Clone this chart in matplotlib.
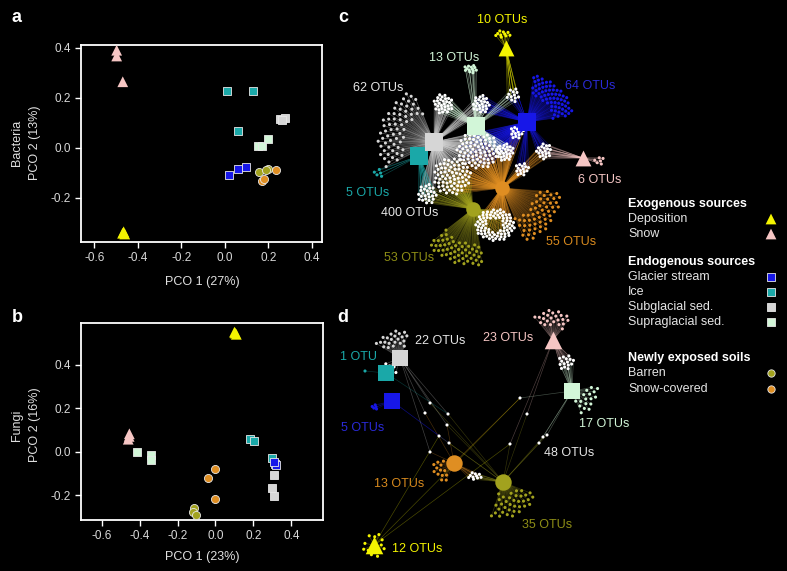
import numpy as np
import matplotlib.pyplot as plt
from matplotlib.collections import LineCollection

plt.rcParams['font.family'] = ['Liberation Sans', 'DejaVu Sans']

# sample groups
groups = ['Deposition', 'Snow', 'Glacier stream', 'Ice', 'Subglacial sed.',
          'Supraglacial sed.', 'Barren', 'Snow-covered']
colors = {'Deposition': '#f4f400', 'Snow': '#f6c6c4', 'Glacier stream': '#1717e8',
          'Ice': '#1aa8a8', 'Subglacial sed.': '#d6d6d6', 'Supraglacial sed.': '#d2f6d8',
          'Barren': '#a2a21e', 'Snow-covered': '#df8e22'}
markers = {'Deposition': '^', 'Snow': '^', 'Glacier stream': 's', 'Ice': 's',
           'Subglacial sed.': 's', 'Supraglacial sed.': 's', 'Barren': 'o', 'Snow-covered': 'o'}

# panel a: bacteria PCO
bac_group = (['Snow'] * 3 + ['Deposition'] * 3 + ['Ice'] * 3 + ['Subglacial sed.'] * 3
             + ['Supraglacial sed.'] * 3 + ['Glacier stream'] * 3 + ['Barren'] * 3
             + ['Snow-covered'] * 3)
bac_pco1 = [-0.497, -0.497, -0.469, -0.470, -0.465, -0.460,
            0.009, 0.129, 0.060, 0.254, 0.277, 0.262,
            0.154, 0.169, 0.200, 0.021, 0.061, 0.098,
            0.159, 0.200, 0.190, 0.170, 0.180, 0.236]
bac_pco2 = [0.390, 0.367, 0.264, -0.342, -0.336, -0.345,
            0.227, 0.227, 0.067, 0.113, 0.117, 0.110,
            0.008, 0.008, 0.034, -0.109, -0.085, -0.076,
            -0.096, -0.083, -0.090, -0.133, -0.125, -0.089]

# panel b: fungi PCO
fun_group = bac_group
fun_pco1 = [-0.454, -0.460, -0.455, 0.104, 0.110, 0.100,
            0.180, 0.201, 0.298, 0.310, 0.300, 0.310,
            -0.412, -0.341, -0.341, 0.316, 0.320, 0.310,
            -0.111, -0.120, -0.100, -0.002, -0.037, -0.002]
fun_pco2 = [0.082, 0.057, 0.070, 0.546, 0.540, 0.550,
            0.060, 0.049, -0.028, -0.106, -0.166, -0.205,
            0.000, -0.015, -0.040, -0.057, -0.060, -0.050,
            -0.259, -0.280, -0.290, -0.081, -0.122, -0.218]

# OTUs linked only to one group, and OTUs shared between groups
c_counts = [10, 6, 64, 5, 62, 13, 53, 55]
c_shared = 400
d_counts = [12, 23, 5, 1, 22, 17, 35, 13]
d_shared = 48

# ---- network layout, in figure pixels (y downwards) ----
c_hub_xy = {'Deposition': (506, 48), 'Snow': (583, 158), 'Glacier stream': (527, 122),
            'Ice': (419, 156), 'Subglacial sed.': (434, 142), 'Supraglacial sed.': (476, 126),
            'Barren': (473, 209), 'Snow-covered': (502, 188)}
# (x, y, angle from, angle to, inner r, outer r, y squash)
c_fans = {'Deposition': (503, 34, 0, 360, 0, 8, 0.5), 'Snow': (599, 161, 0, 360, 0, 5, 1),
          'Glacier stream': (527, 122, 8, 82, 26, 47, 1), 'Ice': (379, 173, 0, 360, 0, 5, 1),
          'Subglacial sed.': (434, 142, 112, 208, 30, 56, 1),
          'Supraglacial sed.': (471, 69, 0, 360, 0, 7, 0.6),
          'Barren': (473, 209, -142, -78, 34, 57, 1),
          'Snow-covered': (502, 188, -67, -3, 33, 60, 1)}
c_blobs = [((443, 104, 0, 10, 1), 30, ['Subglacial sed.', 'Supraglacial sed.']),
           ((481, 104, 0, 9, 1), 25, ['Supraglacial sed.', 'Subglacial sed.', 'Glacier stream']),
           ((513, 95, 0, 7, 1), 12, ['Supraglacial sed.', 'Glacier stream', 'Deposition']),
           ((478, 150, 0, 22, 0.85), 80, ['Subglacial sed.', 'Supraglacial sed.', 'Glacier stream', 'Snow-covered']),
           ((452, 176, 0, 19, 1), 70, ['Subglacial sed.', 'Barren', 'Snow-covered']),
           ((427, 194, 0, 10, 1), 25, ['Subglacial sed.', 'Ice', 'Barren']),
           ((495, 225, 8, 20, 0.8), 80, ['Barren', 'Snow-covered']),
           ((544, 151, 0, 8, 1), 20, ['Glacier stream', 'Snow-covered', 'Snow']),
           ((517, 132, 0, 7, 1), 15, ['Glacier stream', 'Snow-covered']),
           ((522, 169, 0, 7, 1), 15, ['Glacier stream', 'Snow-covered']),
           ((505, 152, 0, 9, 1), 28, ['Supraglacial sed.', 'Snow-covered', 'Glacier stream'])]
c_label_xy = [(502, 20), (600, 180), (590, 86), (368, 193), (378, 88), (454, 58),
              (409, 258), (571, 242)]
c_shared_xy = (410, 213)

d_hub_xy = {'Deposition': (374, 545), 'Snow': (553, 340), 'Glacier stream': (392, 401),
            'Ice': (386, 373), 'Subglacial sed.': (400, 358), 'Supraglacial sed.': (572, 391),
            'Barren': (503, 482), 'Snow-covered': (454, 463)}
d_fans = {'Deposition': (374, 545, 0, 360, 7, 12, 1), 'Snow': (553, 340, 50, 130, 14, 30, 1),
          'Glacier stream': (375, 407, 0, 360, 0, 3, 1), 'Ice': (365, 371, 0, 0, 0, 0, 1),
          'Subglacial sed.': (400, 358, 70, 150, 12, 28, 1),
          'Supraglacial sed.': (572, 391, -70, 15, 10, 26, 1),
          'Barren': (503, 482, -110, -20, 12, 36, 1),
          'Snow-covered': (454, 463, 170, 250, 10, 22, 1)}
d_blobs = [((566, 362, 0, 8, 1), 15, ['Snow', 'Supraglacial sed.']),
           ((389, 370, 0, 8, 1), 10, ['Subglacial sed.', 'Ice']),
           ((475, 476, 0, 7, 0.6), 10, ['Snow-covered', 'Barren']),
           ((430, 403, 0, 0, 1), 1, ['Subglacial sed.', 'Barren']),
           ((425, 413, 0, 0, 1), 1, ['Subglacial sed.', 'Snow-covered']),
           ((448, 414, 0, 0, 1), 1, ['Subglacial sed.', 'Barren', 'Ice']),
           ((447, 425, 0, 0, 1), 1, ['Subglacial sed.', 'Barren', 'Snow-covered']),
           ((439, 436, 0, 0, 1), 1, ['Glacier stream', 'Barren', 'Deposition']),
           ((449, 443, 0, 0, 1), 1, ['Glacier stream', 'Barren']),
           ((430, 452, 0, 0, 1), 1, ['Subglacial sed.', 'Snow-covered']),
           ((520, 398, 0, 0, 1), 1, ['Supraglacial sed.', 'Snow-covered', 'Deposition']),
           ((527, 414, 0, 0, 1), 1, ['Snow', 'Barren']),
           ((510, 444, 0, 0, 1), 1, ['Snow', 'Barren', 'Deposition']),
           ((539, 443, 0, 0, 1), 1, ['Supraglacial sed.', 'Barren']),
           ((543, 437, 0, 0, 1), 1, ['Supraglacial sed.', 'Barren']),
           ((547, 435, 0, 0, 1), 1, ['Supraglacial sed.', 'Barren'])]
d_label_xy = [(417, 549), (508, 338), (363, 428), (358, 357), (440, 341), (604, 424),
              (547, 525), (399, 484)]
d_shared_xy = (569, 453)

label_colors = dict(colors, **{'Barren': '#8e8e16', 'Glacier stream': '#2a2ad8',
                               'Snow-covered': '#d88a1e', 'Subglacial sed.': '#e6e6e6'})


def fan(spec, n):
    cx, cy, a0, a1, r0, r1, sy = spec
    pts = []
    for i in range(n):
        t = (i + 0.5) / n
        r = np.sqrt(r0 ** 2 + t * (r1 ** 2 - r0 ** 2))
        a = np.radians(a0 + ((i * 0.618034) % 1.0) * (a1 - a0))
        pts.append((cx + r * np.cos(a), cy - r * np.sin(a) * sy))
    return pts


def draw_network(ax, hub_xy, fans, counts, blobs, shared, hub_size, label_xy, shared_xy, alpha):
    assert sum(b[1] for b in blobs) == shared
    segs, seg_cols, dots, dot_cols = [], [], [], []
    for g, n in zip(groups, counts):
        for p in fan(fans[g], n):
            segs.append([p, hub_xy[g]])
            seg_cols.append(colors[g])
            dots.append(p)
            dot_cols.append(colors[g])
    for (cx, cy, r0, r1, sy), n, hubs in blobs:
        for p in fan((cx, cy, 0, 360, r0, r1, sy), n):
            for h in hubs:
                segs.append([p, hub_xy[h]])
                seg_cols.append(colors[h])
            dots.append(p)
            dot_cols.append('white')
    ax.add_collection(LineCollection(segs, colors=seg_cols, linewidths=0.45, alpha=alpha, zorder=1))
    dots = np.array(dots)
    ax.scatter(dots[:, 0], dots[:, 1], s=5, c=dot_cols, linewidths=0, zorder=2)
    for g in groups:
        x, y = hub_xy[g]
        ax.scatter([x], [y], s=hub_size[markers[g]], marker=markers[g], c=colors[g],
                   linewidths=0, zorder=3)
    for g, n, (x, y) in zip(groups, counts, label_xy):
        ax.text(x, y, f'{n} OTU' if n == 1 else f'{n} OTUs', color=label_colors[g],
                fontsize=9, ha='center', va='center', zorder=4)
    ax.text(shared_xy[0], shared_xy[1], f'{shared} OTUs', color='#e6e6e6', fontsize=9,
            ha='center', va='center', zorder=4)


def draw_pco(ax, pco1, pco2, grp, xlim, ylim, xticks, yticks):
    ax.set_facecolor('black')
    for x, y, g in zip(pco1, pco2, grp):
        tri = markers[g] == '^'
        ax.scatter([x], [y], s=60 if tri else 34, marker=markers[g], c=colors[g],
                   edgecolors='none' if tri else '#e8e8e8', linewidths=0.6, zorder=3)
    ax.set_xlim(*xlim)
    ax.set_ylim(*ylim)
    ax.set_xticks(xticks)
    ax.set_yticks(yticks)
    ax.set_xticklabels([f'{t:.1f}' for t in xticks])
    ax.set_yticklabels([f'{t:.1f}' for t in yticks])
    for s in ax.spines.values():
        s.set_color('white')
        s.set_linewidth(1.3)
    ax.tick_params(colors='white', labelcolor='#d8d8d8', labelsize=8.5, length=4, width=1)


W, H = 787, 571
fig = plt.figure(figsize=(W / 100, H / 100), dpi=100, facecolor='black')

# overlay in pixel coordinates for the network panels, labels and legend
net = fig.add_axes([0, 0, 1, 1])
net.set_xlim(0, W)
net.set_ylim(H, 0)
net.axis('off')

ax_a = fig.add_axes([81 / W, 1 - 242 / H, 241 / W, 197 / H])
draw_pco(ax_a, bac_pco1, bac_pco2, bac_group, (-0.661, 0.447), (-0.377, 0.411),
         [-0.6, -0.4, -0.2, 0.0, 0.2, 0.4], [-0.2, 0.0, 0.2, 0.4])
ax_b = fig.add_axes([81 / W, 1 - 520 / H, 242 / W, 197 / H])
draw_pco(ax_b, fun_pco1, fun_pco2, fun_group, (-0.709, 0.567), (-0.315, 0.592),
         [-0.6, -0.4, -0.2, 0.0, 0.2, 0.4], [-0.2, 0.0, 0.2, 0.4])

txt = dict(color='#e0e0e0', fontsize=9, ha='center', va='center')
net.text(17, 143, 'Bacteria', rotation=90, **txt)
net.text(35, 143, 'PCO 2 (13%)', rotation=90, **txt)
net.text(202, 282, 'PCO 1 (27%)', **txt)
net.text(17, 425, 'Fungi', rotation=90, **txt)
net.text(35, 425, 'PCO 2 (16%)', rotation=90, **txt)
net.text(202, 557, 'PCO 1 (23%)', **txt)

for lab, (x, y) in zip('abcd', [(17, 18), (17, 318), (343, 18), (343, 317)]):
    net.text(x, y, lab, color='white', fontsize=13, fontweight='bold', ha='center', va='center')

draw_network(net, c_hub_xy, c_fans, c_counts, c_blobs, c_shared,
             {'s': 150, '^': 130, 'o': 110}, c_label_xy, c_shared_xy, 0.42)
draw_network(net, d_hub_xy, d_fans, d_counts, d_blobs, d_shared,
             {'s': 140, '^': 160, 'o': 140}, d_label_xy, d_shared_xy, 0.32)

# legend
legend_rows = [('Exogenous sources', None, 204), ('Deposition', 'Deposition', 219),
               ('Snow', 'Snow', 234), ('Endogenous sources', None, 262),
               ('Glacier stream', 'Glacier stream', 277), ('Ice', 'Ice', 292),
               ('Subglacial sed.', 'Subglacial sed.', 307),
               ('Supraglacial sed.', 'Supraglacial sed.', 322),
               ('Newly exposed soils', None, 358), ('Barren', 'Barren', 373),
               ('Snow-covered', 'Snow-covered', 389)]
for text, g, y in legend_rows:
    net.text(628, y, text, color='white' if g is None else '#e4e4e4', fontsize=9,
             fontweight='bold' if g is None else 'normal', ha='left', va='center')
    if g is not None:
        tri = markers[g] == '^'
        net.scatter([771], [y], s=60 if tri else 28, marker=markers[g], c=colors[g],
                    edgecolors='none' if tri else '#e8e8e8', linewidths=0.6)

fig.savefig('out.png', dpi=100, facecolor='black')
